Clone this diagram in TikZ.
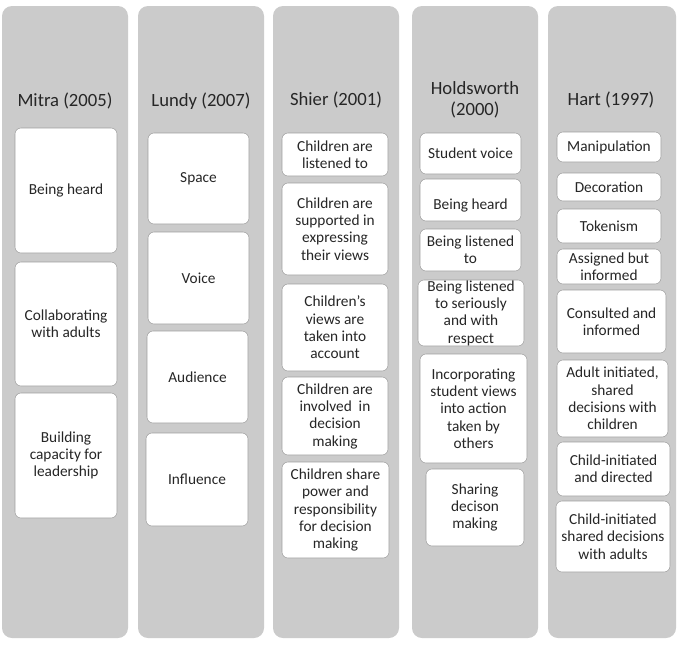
\documentclass[tikz,border=0pt]{standalone}
\usepackage{fontspec}
\setmainfont{Carlito}
\usepackage{tikz}
\definecolor{colgrey}{HTML}{CBCBCB}
\definecolor{boxline}{HTML}{9E9E9E}
\definecolor{inktext}{HTML}{262626}

\begin{document}
\begin{tikzpicture}[x=0.75pt,y=-0.75pt,
  cell/.style 2 args={draw=boxline,fill=white,rounded corners=4.5pt,inner sep=0pt,
    align=center,text=inktext,font=\fontsize{11.5}{13}\selectfont,
    minimum width=#1*0.75pt,minimum height=#2*0.75pt},
  head/.style={align=center,text=inktext,font=\fontsize{14}{15.75}\selectfont}]
  \useasboundingbox[fill=white] (0,0) rectangle (678,646);
  % grey columns (1 unit = 1 px of the reference)
  \foreach \cx/\cw in {2/126,138/126,273/126,412/126,548/128}
    \fill[colgrey,rounded corners=7.5pt] (\cx,6) rectangle ++(\cw,632);
  % headers
  \node[head] (hdmitra) at (65,101){Mitra (2005)};
  \node[head] (hdlundy) at (201,101){Lundy (2007)};
  \node[head] (hdshier) at (336,100){Shier (2001)};
  \node[head] (hdholds) at (475,100){Holdsworth\\(2000)};
  \node[head] (hdhart)  at (611,100){Hart (1997)};
  % Mitra
  \node[cell={102}{125}] (m1) at (66,190.5){Being heard};
  \node[cell={102}{124}] (m2) at (66,324){Collaborating\\with adults};
  \node[cell={102}{125}] (m3) at (66,455.5){Building\\capacity for\\leadership};
  % Lundy
  \node[cell={101}{91}] (l1) at (198.5,178.5){Space};
  \node[cell={101}{92}] (l2) at (198.5,278){Voice};
  \node[cell={101}{92}] (l3) at (197.5,377){Audience};
  \node[cell={102}{93}] (l4) at (197,479.5){Influence};
  % Shier
  \node[cell={106}{43}] (s1) at (335,154.5){Children are\\listened to};
  \node[cell={106}{92}] (s2) at (335,229){Children are\\supported in\\expressing\\their views};
  \node[cell={106}{87}] (s3) at (335,327.5){Children's\\views are\\taken into\\account};
  \node[cell={106}{78}] (s4) at (335,416){Children are\\involved~ in\\decision\\making};
  \node[cell={107}{96}] (s5) at (335.5,510){Children share\\power and\\responsibility\\for decision\\making};
  % Holdsworth
  \node[cell={101}{41}] (h1) at (470.5,153.5){Student voice};
  \node[cell={101}{42}] (h2) at (470.5,200){\strut\\[-6pt]Being heard};
  \node[cell={101}{42}] (h3) at (470.5,250){Being listened\\to};
  \node[cell={106}{66}] (h4) at (471,313){Being listened\\to seriously\\and with\\respect};
  \node[cell={107}{109}] (h5) at (473.5,408.5){Incorporating\\student views\\into action\\taken by\\others};
  \node[cell={98}{77}] (h6) at (475,507.5){Sharing\\decison\\making};
  % Hart
  \node[cell={104}{30}] (t1) at (609,147){Manipulation};
  \node[cell={104}{28}] (t2) at (609,187){Decoration};
  \node[cell={104}{34}] (t3) at (609,226){Tokenism};
  \node[cell={104}{35}] (t4) at (609,266.5){Assigned but\\informed};
  \node[cell={109}{63}] (t5) at (611.5,321.5){Consulted and\\informed};
  \node[cell={111}{77}] (t6) at (612.5,398.5){Adult initiated,\\shared\\decisions with\\children};
  \node[cell={113}{54}] (t7) at (613.5,469){Child-initiated\\and directed};
  \node[cell={114}{71}] (t8) at (613,536.5){Child-initiated\\shared decisions\\with adults};
\end{tikzpicture}
\end{document}
